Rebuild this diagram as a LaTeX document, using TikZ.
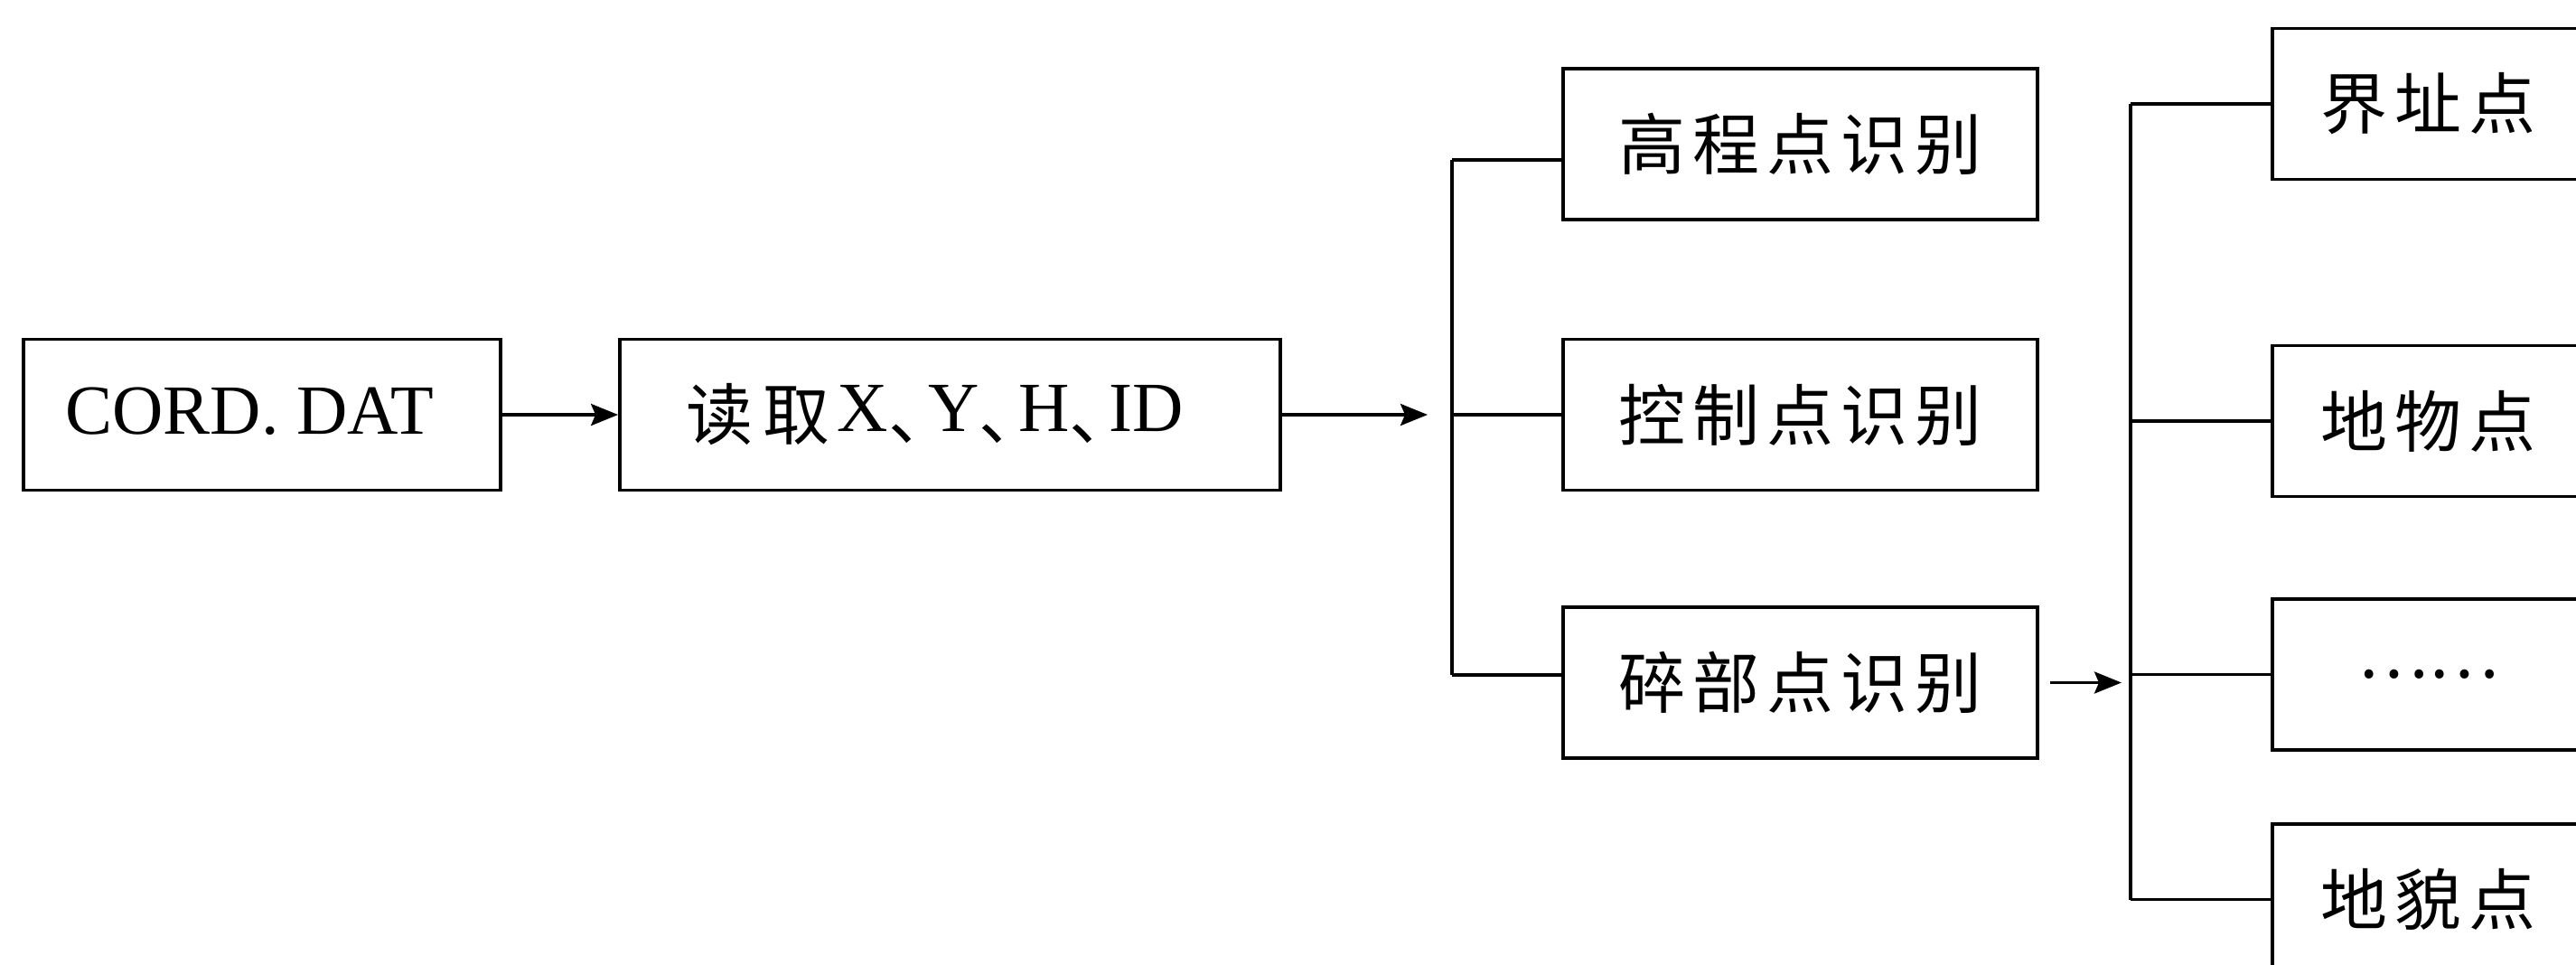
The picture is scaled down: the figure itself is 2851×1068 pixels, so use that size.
\documentclass[tikz,border=0pt]{standalone}
\usepackage{fontspec}
\setmainfont{Liberation Serif}
\newfontfamily\cjk{Noto Sans CJK SC}
\usetikzlibrary{arrows.meta}
\newcommand\gp{\hspace{8pt}}
\newcommand\cjt[1]{\raisebox{-9pt}{{\cjk\fontsize{74}{80}\selectfont #1}}}
\newcommand\dun{\cjt{、}\kern-30pt}
\begin{document}
\begin{tikzpicture}[x=1pt,y=-1pt,
  box/.style={draw, line width=3.8pt, inner sep=0pt, minimum height=167pt, anchor=center},
  lvtwo/.style={box, minimum width=525pt},
  lvthree/.style={box, minimum width=345pt},
  lbl/.style={inner sep=0pt, font=\fontsize{78}{80}\selectfont},
  cj/.style={font=\cjk\fontsize{74}{80}\selectfont},
  link/.style={line width=3.5pt},
  arr/.style={line width=3.5pt, -{Stealth[length=30pt,width=24pt,inset=5pt]}}]
\useasboundingbox (0,0) rectangle (2851,1068);
\clip (0,0) rectangle (2851,1068);

% level 1
\node[box, minimum width=528pt] (cord) at (290,459) {};
\node[lbl] (cordt) at (276,455) {CORD. DAT};
\node[box, minimum width=731pt] (read) at (1051.5,459) {};
\node[lbl] (readt) at (1035,459) {\cjt{读\hspace{11pt}取}\hspace{8pt}X\dun Y\dun H\dun ID};

% level 2
\node[lvtwo, cj] (gc) at (1992.5,159.5) {高\gp 程\gp 点\gp 识\gp 别};
\node[lvtwo, cj] (kz) at (1992.5,459) {控\gp 制\gp 点\gp 识\gp 别};
\node[lvtwo, cj] (sb) at (1992.5,755.5) {碎\gp 部\gp 点\gp 识\gp 别};

% level 3
\node[lvthree, cj] (jz) at (2687.5,115) {界\gp 址\gp 点};
\node[lvthree, cj] (dw) at (2687.5,466) {地\gp 物\gp 点};
\node[lvthree, cj] (el) at (2687.5,746.5) {……};
\node[lvthree, cj] (dm) at (2687.5,995.5) {地\gp 貌\gp 点};

% bus 1
\coordinate (b1t) at (1607,177);
\coordinate (b1m) at (1607,459);
\coordinate (b1b) at (1607,747);
\coordinate (a1) at (1580,459);
% bus 2
\coordinate (b2t) at (2358,115);
\coordinate (b2a) at (2358,466);
\coordinate (b2c) at (2358,746.5);
\coordinate (b2b) at (2358,995.5);
\coordinate (a2) at (2348,755.5);

\draw[arr] (cord.east) -- (read.west);
\draw[arr] (read.east) -- (a1);
\draw[link] (b1t) -- (b1b);
\draw[link] (b1t) -- (b1t -| gc.west);
\draw[link] (b1m) -- (kz.west);
\draw[link] (b1b) -- (b1b -| sb.west);

\draw[arr, shorten <=12pt] (sb.east) -- (a2);
\draw[link] (b2t) -- (b2b);
\draw[link] (b2t) -- (jz.west);
\draw[link] (b2a) -- (dw.west);
\draw[link] (b2c) -- (el.west);
\draw[link] (b2b) -- (dm.west);
\end{tikzpicture}
\end{document}
